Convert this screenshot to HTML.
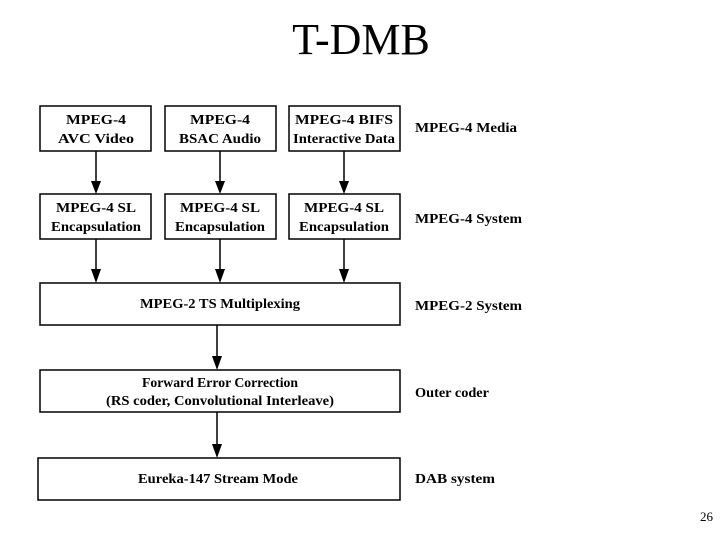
<!DOCTYPE html>
<html><head><meta charset="utf-8"><style>
html,body{margin:0;padding:0;background:#fff;width:720px;height:540px;overflow:hidden}
svg text{font-family:"Liberation Serif",serif;font-weight:bold;font-size:14px;fill:#000}
</style></head><body>
<svg width="720" height="540" xmlns="http://www.w3.org/2000/svg">
<text x="361" y="54" text-anchor="middle" style="font-size:44px;font-weight:normal">T-DMB</text>
<g fill="none" stroke="#000" stroke-width="1.5">
<rect x="40" y="106" width="111" height="45"/>
<rect x="165" y="106" width="111" height="45"/>
<rect x="289" y="106" width="111" height="45"/>
<rect x="40" y="194" width="111" height="45"/>
<rect x="165" y="194" width="111" height="45"/>
<rect x="289" y="194" width="111" height="45"/>
<rect x="40" y="283" width="360" height="42"/>
<rect x="40" y="370" width="360" height="42"/>
<rect x="38" y="458" width="362" height="42"/>
<path d="M96 151V182M220 151V182M344 151V182M96 239V270M220 239V270M344 239V270M217 325V357M217 412V445"/>
</g>
<g fill="#000">
<path d="M91 181h10l-5 13z"/><path d="M215 181h10l-5 13z"/><path d="M339 181h10l-5 13z"/>
<path d="M91 269h10l-5 14z"/><path d="M215 269h10l-5 14z"/><path d="M339 269h10l-5 14z"/>
<path d="M212 356h10l-5 14z"/><path d="M212 444h10l-5 14z"/>
</g>
<g text-anchor="middle">
<text x="96" y="124" textLength="60" lengthAdjust="spacingAndGlyphs">MPEG-4</text><text x="96" y="143" textLength="76" lengthAdjust="spacingAndGlyphs">AVC Video</text>
<text x="220" y="124" textLength="60" lengthAdjust="spacingAndGlyphs">MPEG-4</text><text x="220" y="143" textLength="82" lengthAdjust="spacingAndGlyphs">BSAC Audio</text>
<text x="344" y="124" textLength="98" lengthAdjust="spacingAndGlyphs">MPEG-4 BIFS</text><text x="344" y="143" textLength="102" lengthAdjust="spacingAndGlyphs">Interactive Data</text>
<text x="96" y="212" textLength="80" lengthAdjust="spacingAndGlyphs">MPEG-4 SL</text><text x="96" y="231" textLength="90" lengthAdjust="spacingAndGlyphs">Encapsulation</text>
<text x="220" y="212" textLength="80" lengthAdjust="spacingAndGlyphs">MPEG-4 SL</text><text x="220" y="231" textLength="90" lengthAdjust="spacingAndGlyphs">Encapsulation</text>
<text x="344" y="212" textLength="80" lengthAdjust="spacingAndGlyphs">MPEG-4 SL</text><text x="344" y="231" textLength="90" lengthAdjust="spacingAndGlyphs">Encapsulation</text>
<text x="220" y="308" textLength="160" lengthAdjust="spacingAndGlyphs">MPEG-2 TS Multiplexing</text>
<text x="220" y="387" textLength="156" lengthAdjust="spacingAndGlyphs">Forward Error Correction</text>
<text x="220" y="405" textLength="228" lengthAdjust="spacingAndGlyphs">(RS coder, Convolutional Interleave)</text>
<text x="218" y="483" textLength="160" lengthAdjust="spacingAndGlyphs">Eureka-147 Stream Mode</text>
</g>
<text x="415" y="132" textLength="102" lengthAdjust="spacingAndGlyphs">MPEG-4 Media</text>
<text x="415" y="223" textLength="107" lengthAdjust="spacingAndGlyphs">MPEG-4 System</text>
<text x="415" y="310" textLength="107" lengthAdjust="spacingAndGlyphs">MPEG-2 System</text>
<text x="415" y="397" textLength="74" lengthAdjust="spacingAndGlyphs">Outer coder</text>
<text x="415" y="483" textLength="80" lengthAdjust="spacingAndGlyphs">DAB system</text>
<text x="700" y="521" style="font-weight:normal;font-size:13px">26</text>
</svg>
</body></html>
